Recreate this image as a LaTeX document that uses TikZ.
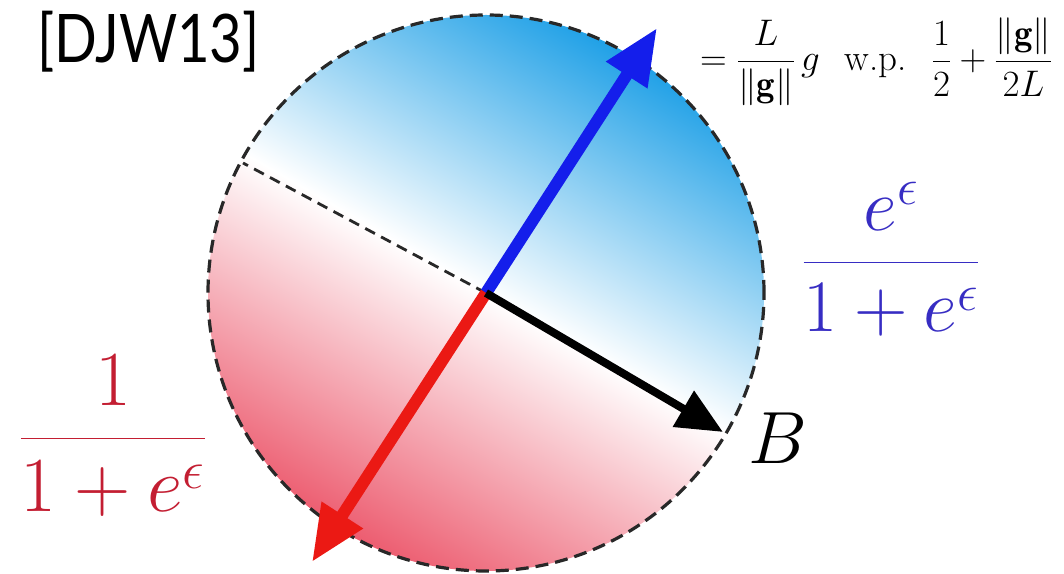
\documentclass[tikz,border=0pt]{standalone}
\usepackage{fix-cm}
\usepackage{amsmath}
\usepackage{fontspec}
\newfontfamily\djwfont{Lato}
\usetikzlibrary{arrows.meta}
\definecolor{shblue}{RGB}{26,158,230}
\definecolor{shred}{RGB}{236,88,108}
\definecolor{arrblue}{RGB}{20,30,235}
\definecolor{arrred}{RGB}{235,25,20}
\definecolor{txtblue}{RGB}{55,45,195}
\definecolor{txtred}{RGB}{195,30,50}
\definecolor{dashgray}{RGB}{40,40,40}
\tikzset{
  rim/.style={draw=dashgray, line width=3.2pt, dash pattern=on 13pt off 7pt},
  divider/.style={draw=dashgray, line width=2.8pt, dash pattern=on 11pt off 7pt},
  vec/.style={line width=12pt, -{Triangle[length=56pt,width=46pt]}},
  bvec/.style={line width=8pt, -{Triangle[length=46pt,width=40pt]}},
  big/.style={font=\fontsize{74}{80}\selectfont, inner sep=0pt},
  bigger/.style={font=\fontsize{78}{84}\selectfont, inner sep=0pt},
  small/.style={font=\fontsize{37}{44}\selectfont, inner sep=0pt},
}
\begin{document}
\begin{tikzpicture}[x=1pt,y=1pt]
\useasboundingbox (0,0) rectangle (1064,573);
\clip (0,0) rectangle (1064,573);
\coordinate (O) at (486,280);
\coordinate (BT) at (723,141);
\coordinate (UT) at (657,545);
\coordinate (RT) at (312,11);
\coordinate (D) at (243,410);
\begin{scope}
  \clip (O) circle (278pt);
  \begin{scope}[transform canvas={rotate around={-30:(486,280)}}]
    \shade[bottom color=white, top color=shblue] (186,280) rectangle (786,565);
    \shade[top color=white, bottom color=shred] (186,-5) rectangle (786,280);
  \end{scope}
\end{scope}
\draw[rim] (O) circle (278pt);
\draw[divider] (O) -- (D);
\draw[vec, arrblue] (O) -- (UT);
\draw[vec, arrred] (O) -- (RT);
\draw[bvec, black] (O) -- (BT);
\node[font=\djwfont\fontsize{67}{70}\selectfont, anchor=base west, inner sep=0pt, xscale=0.84, transform shape] (ref) at (37,510) {[DJW13]};
\node[small, anchor=base west] (upd) at (700,502) {$= \dfrac{L}{\|\mathbf{g}\|}\,g \hspace{25pt} \text{w.p.}\hspace{25pt} \dfrac{1}{2} + \dfrac{\|\mathbf{g}\|}{2L}$};
\node[big, anchor=base west] (blab) at (748,110) {$B$};
\node[big, anchor=base, txtblue] (pb) at (891,292) {$\dfrac{e^{\epsilon}}{1+e^{\epsilon}}$};
\node[bigger, anchor=base, txtred] (pr) at (113,115) {$\dfrac{1}{1+e^{\epsilon}}$};
\end{tikzpicture}
\end{document}
